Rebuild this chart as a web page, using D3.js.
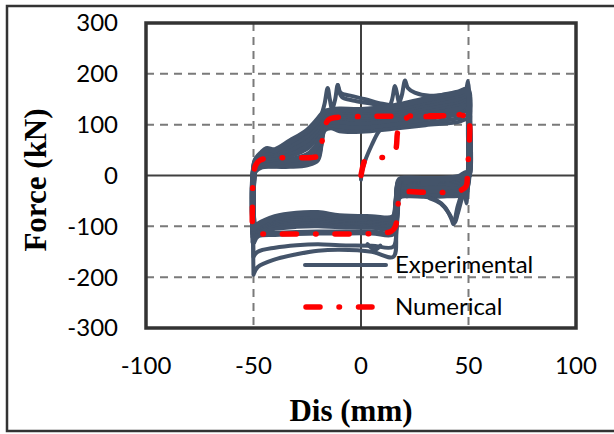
<!DOCTYPE html>
<html>
<head>
<meta charset="utf-8">
<script src="https://cdn.jsdelivr.net/npm/d3@7"></script>
<style>
  html, body { margin: 0; padding: 0; background: #fff; }
  svg { display: block; }
</style>
</head>
<body>
<div id="chart"></div>
<script>
// axis ticks
const xTicks = [-100, -50, 0, 50, 100];
const yTicks = [-300, -200, -100, 0, 100, 200, 300];

// experimental cycles, [dis (mm), force (kN)]
const expLoop1 = [[-50,-105],[-50.3,-60],[-50,0],[-49,30],[-46,45],[-44,52],[-40,50],[-33,67],[-25,88],[-20,110],[-17,125],[-14,128],[-10,130],[0,129],[15,136],[30,150],[45,163],[49.5,168],[50.2,120],[50,0],[49,5],[46,-2],[40,-6],[30,-7],[22,-6],[18,-8],[16.5,-50],[15,-82],[5,-82],[-10,-80],[-20,-74],[-30,-75],[-40,-82],[-48,-97],[-50,-105]];
const expLoop8 = [[-50,-108],[-50.3,-60],[-50,0],[-49,28],[-46,42],[-40,47],[-33,60],[-25,80],[-20,103],[-17,120],[-14,124],[-10,126],[0,125],[15,131],[30,145],[45,158],[49.5,163],[50.2,115],[50,0],[49,1],[46,-5],[40,-8],[30,-9],[22,-8],[18,-10],[16.5,-52],[15,-85],[5,-85],[-10,-83],[-20,-78],[-30,-79],[-40,-85],[-48,-100],[-50,-108]];
const expLoop2 = [[-50,-110],[-50.3,-60],[-50,0],[-49,25],[-46,38],[-40,42],[-33,52],[-25,70],[-20,95],[-17,115],[-14,120],[-10,122],[0,120],[15,127],[30,140],[45,152],[49.5,158],[50.2,110],[50,0],[49,-2],[46,-8],[40,-10],[30,-11],[22,-10],[18,-12],[16.5,-55],[15,-88],[5,-88],[-10,-86],[-20,-81],[-30,-82],[-40,-88],[-48,-102],[-50,-110]];
const expLoop9 = [[-50,-112],[-50.3,-60],[-50,0],[-49,22],[-46,34],[-40,37],[-33,46],[-25,62],[-20,88],[-17,111],[-14,116],[-10,118],[0,116],[15,122],[30,135],[45,147],[49.5,153],[50.2,105],[50,0],[49,-5],[46,-11],[40,-13],[30,-13],[22,-12],[18,-15],[16.5,-60],[15,-92],[5,-91],[-10,-89],[-20,-85],[-30,-86],[-40,-91],[-48,-104],[-50,-112]];
const expLoop3 = [[-50,-115],[-50.3,-60],[-50,0],[-49,20],[-46,30],[-40,33],[-33,40],[-25,55],[-20,80],[-17,108],[-14,113],[-10,114],[0,112],[15,118],[30,130],[45,142],[49.5,148],[50.2,100],[50,0],[49,-8],[46,-14],[40,-16],[30,-16],[22,-15],[18,-18],[16.5,-65],[15,-95],[5,-94],[-10,-92],[-20,-89],[-30,-90],[-40,-95],[-48,-107],[-50,-115]];
const expLoop4 = [[-50,-120],[-50.3,-60],[-50,0],[-49,15],[-46,25],[-40,26],[-33,30],[-25,40],[-20,62],[-17,100],[-14,106],[-10,106],[0,104],[15,110],[30,121],[45,132],[49.5,138],[50.2,90],[50,0],[49,-15],[46,-20],[40,-22],[30,-22],[22,-21],[18,-24],[16.5,-75],[15,-103],[5,-101],[-10,-100],[-20,-98],[-30,-99],[-40,-103],[-48,-112],[-50,-120]];
const expLoop5 = [[-50,-130],[-50.3,-60],[-50,0],[-49,12],[-46,20],[-40,21],[-33,22],[-25,28],[-20,45],[-17,95],[-14,100],[-10,98],[0,96],[15,102],[30,112],[45,122],[49.5,128],[50.2,80],[50,0],[49,-22],[46,-26],[40,-28],[30,-30],[22,-28],[18,-30],[16.5,-85],[15,-114],[5,-112],[-10,-112],[-20,-112],[-30,-113],[-40,-115],[-48,-118],[-50,-130]];
const expLoop6 = [[-50,-160],[-50.3,-60],[-50,0],[-49,10],[-46,18],[-40,18],[-33,19],[-25,22],[-20,35],[-17,92],[-14,96],[-10,91],[0,89],[15,95],[30,104],[45,112],[49.5,118],[50.2,70],[50,0],[49,-30],[46,-34],[40,-36],[30,-37],[22,-36],[18,-38],[16.5,-95],[15,-140],[5,-138],[-10,-137],[-20,-135],[-30,-137],[-40,-142],[-48,-150],[-50,-160]];
const expLoop7 = [[-50,-195],[-50.3,-60],[-50,0],[-49,8],[-46,16],[-40,17],[-33,17],[-25,20],[-20,30],[-17,88],[-14,93],[-10,87],[0,86],[15,92],[30,99],[45,105],[49.5,110],[50.2,60],[50,0],[49,-36],[46,-40],[40,-41],[30,-42],[22,-41],[18,-44],[16.5,-110],[15,-160],[5,-150],[-10,-146],[-20,-148],[-30,-155],[-40,-165],[-48,-180],[-50,-195]];

// first loading branch and local spikes of the test record
const expInitial = [[0,-8],[0.3,5],[2,30],[5,60],[8,85],[11,100],[15,110]];
const expPeakLeft = [[-19,110],[-17,140],[-15.5,172],[-14.5,150],[-13.5,130],[-12,150],[-10.8,178],[-9.5,163],[-5,157],[2,150],[10,141],[18,136],[25,138]];
const expPeakLeft2 = [[-10.8,178],[-9,155],[-3,147],[5,141],[13,135]];
const expPeakRight = [[13,130],[14.5,150],[15.8,176],[16.8,160],[17.7,143],[19,158],[20.5,187],[21.8,172],[25,163],[32,157],[40,160],[47,165]];
const expPeakEnd = [[49,165],[49.6,186],[50.2,170],[50.3,140]];
const expDip1 = [[49,-20],[47,-35],[45,-60],[43.5,-90],[43,-96],[42,-85],[39,-62],[35,-48],[30,-42]];
const expDip2 = [[49,-25],[47,-45],[45,-75],[43.5,-93],[41,-75],[37,-55],[32,-45]];
const expWiggle = [[50,-10],[49.5,-35],[49,-55],[48.5,-40]];
const expSpikeMid = [[3,-135],[6.5,-146],[9,-138]];

// numerical model
const numerical = [[0,0],[1,20],[2,30],[8,35],[13,37],[16,50],[17,85],[18.5,105],[21,113],[30,116],[40,117],[49.5,118],[50.5,100],[50,40],[49.5,0],[49,-20],[47,-28],[44,-32],[30,-33],[20,-33],[18,-40],[17,-70],[16,-100],[14,-110],[10,-113],[0,-115],[-20,-115],[-40,-115],[-48,-113],[-50,-105],[-50.5,-60],[-50,0],[-49,20],[-47,30],[-43,34],[-30,35],[-22,36],[-19,40],[-18,70],[-17,95],[-15,110],[-12,114],[0,116],[20,117],[49.5,118]];

// dense band cycles are drawn thick, the outer strands thinner
const expBand = [expLoop5, expLoop4, expLoop3, expLoop9, expLoop2, expLoop8, expLoop1];
const expStrands = [expLoop7, expLoop6, expInitial, expPeakLeft, expPeakLeft2, expPeakRight,
  expPeakEnd, expDip1, expDip2, expWiggle, expSpikeMid];

const width = 614;
const height = 434;
const plot = { left: 146, right: 576, top: 23, bottom: 328 };
const expColor = '#44546a';
const numColor = '#ff0000';

const svg = d3.select('#chart')
  .append('svg')
  .attr('width', width)
  .attr('height', height);

// outer chart border (right side runs off the picture)
svg.append('rect')
  .attr('x', 7).attr('y', 6)
  .attr('width', width + 10).attr('height', 425)
  .attr('fill', '#fff')
  .attr('stroke', '#333')
  .attr('stroke-width', 2.5);

const x = d3.scaleLinear().domain([-100, 100]).range([plot.left, plot.right]);
const y = d3.scaleLinear().domain([-300, 300]).range([plot.bottom, plot.top]);

// dashed grid
const grid = svg.append('g');
grid.selectAll('line.gx')
  .data(xTicks.filter(d => d !== 0 && Math.abs(d) !== 100))
  .enter().append('line')
  .attr('x1', d => x(d)).attr('x2', d => x(d))
  .attr('y1', plot.top).attr('y2', plot.bottom)
  .attr('stroke', '#7a7a7a').attr('stroke-width', 2)
  .attr('stroke-dasharray', '8,6');
grid.selectAll('line.gy')
  .data(yTicks.filter(d => d !== 0 && Math.abs(d) !== 300))
  .enter().append('line')
  .attr('x1', plot.left).attr('x2', plot.right)
  .attr('y1', d => y(d)).attr('y2', d => y(d))
  .attr('stroke', '#7a7a7a').attr('stroke-width', 2)
  .attr('stroke-dasharray', '8,6');

// zero lines
svg.append('line')
  .attr('x1', x(0)).attr('x2', x(0))
  .attr('y1', plot.top).attr('y2', plot.bottom)
  .attr('stroke', '#404040').attr('stroke-width', 2);
svg.append('line')
  .attr('x1', plot.left).attr('x2', plot.right)
  .attr('y1', y(0)).attr('y2', y(0))
  .attr('stroke', '#404040').attr('stroke-width', 2);

const line = d3.line()
  .x(d => x(d[0]))
  .y(d => y(d[1]))
  .curve(d3.curveCatmullRom.alpha(0.5));

// experimental curves
const expG = svg.append('g')
  .attr('fill', 'none')
  .attr('stroke', expColor)
  .attr('stroke-linejoin', 'round')
  .attr('stroke-linecap', 'round');
expG.selectAll('path.strand')
  .data(expStrands)
  .enter().append('path')
  .attr('class', 'strand')
  .attr('d', line)
  .attr('stroke-width', 4);
expG.selectAll('path.band')
  .data(expBand)
  .enter().append('path')
  .attr('class', 'band')
  .attr('d', line)
  .attr('stroke-width', 6);

// numerical curve
svg.append('path')
  .datum(numerical)
  .attr('d', line)
  .attr('fill', 'none')
  .attr('stroke', numColor)
  .attr('stroke-width', 5.5)
  .attr('stroke-linecap', 'round')
  .attr('stroke-dasharray', '14,19,0.5,19');

// plot frame
svg.append('rect')
  .attr('x', plot.left).attr('y', plot.top)
  .attr('width', plot.right - plot.left).attr('height', plot.bottom - plot.top)
  .attr('fill', 'none')
  .attr('stroke', '#333')
  .attr('stroke-width', 3.5);

// tick labels
svg.append('g')
  .selectAll('text')
  .data(yTicks)
  .enter().append('text')
  .attr('x', 118)
  .attr('y', d => y(d))
  .attr('dy', '0.35em')
  .attr('text-anchor', 'end')
  .style('font', '24px Lato, sans-serif')
  .text(d => d);
svg.append('g')
  .selectAll('text')
  .data(xTicks)
  .enter().append('text')
  .attr('x', d => x(d))
  .attr('y', 374)
  .attr('text-anchor', 'middle')
  .style('font', '24px Lato, sans-serif')
  .text(d => d);

// axis titles
svg.append('text')
  .attr('x', 351).attr('y', 421)
  .attr('text-anchor', 'middle')
  .style('font', 'bold 31px "Liberation Serif", serif')
  .text('Dis (mm)');
svg.append('text')
  .attr('transform', 'translate(46,180) rotate(-90)')
  .attr('text-anchor', 'middle')
  .style('font', 'bold 31px "Liberation Serif", serif')
  .text('Force (kN)');

// legend
const legend = svg.append('g');
legend.append('line')
  .attr('x1', 305).attr('x2', 386).attr('y1', 265).attr('y2', 265)
  .attr('stroke', expColor).attr('stroke-width', 4).attr('stroke-linecap', 'round');
legend.append('text')
  .attr('x', 395).attr('y', 273)
  .style('font', '24px Lato, sans-serif')
  .text('Experimental');
legend.append('line')
  .attr('x1', 306).attr('x2', 372).attr('y1', 307).attr('y2', 307)
  .attr('stroke', numColor).attr('stroke-width', 5.5).attr('stroke-linecap', 'round')
  .attr('stroke-dasharray', '14,19,0.5,19');
legend.append('text')
  .attr('x', 395).attr('y', 315)
  .style('font', '24px Lato, sans-serif')
  .text('Numerical');
</script>
</body>
</html>
